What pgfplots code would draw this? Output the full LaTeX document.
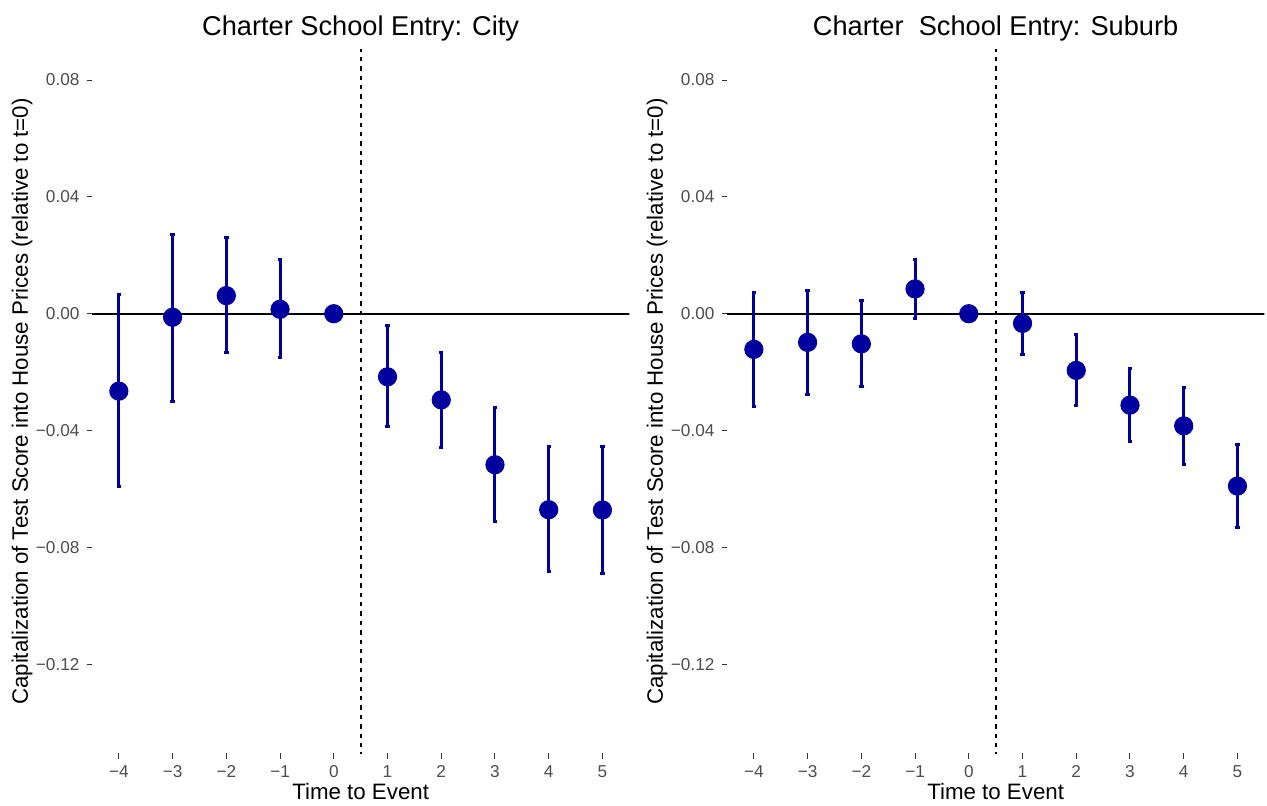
\documentclass[border=0pt]{standalone}
\usepackage{pgfplots}
\usepackage{pgfplotstable}
\pgfplotsset{compat=1.18}
\usepackage{fontspec}
\setmainfont{Liberation Sans}
\definecolor{ptblue}{RGB}{0,0,158}
\definecolor{tickgray}{RGB}{77,77,77}

\pgfplotstableread{
x y lo hi
-4 -0.0265 -0.0593 0.0067
-3 -0.0012 -0.0299 0.0272
-2 0.0062 -0.0134 0.0260
-1 0.0015 -0.0149 0.0184
0 0 0 0
1 -0.0216 -0.0387 -0.0040
2 -0.0295 -0.0459 -0.0134
3 -0.0517 -0.0713 -0.0322
4 -0.0671 -0.0882 -0.0456
5 -0.0672 -0.0889 -0.0456
}\citytable

\pgfplotstableread{
x y lo hi
-4 -0.0122 -0.0317 0.0073
-3 -0.0098 -0.0275 0.0079
-2 -0.0103 -0.0250 0.0046
-1 0.0085 -0.0017 0.0184
0 0 0 0
1 -0.0033 -0.0138 0.0073
2 -0.0194 -0.0315 -0.0072
3 -0.0313 -0.0439 -0.0186
4 -0.0384 -0.0516 -0.0252
5 -0.0590 -0.0733 -0.0447
}\suburbtable

\pgfplotsset{panel/.style={
  scale only axis, width=268.65pt, height=351.5pt,
  xmin=-4.5, xmax=5.5, ymin=-0.1504, ymax=0.0903,
  axis line style={draw=none},
  tick pos=left, tick align=outside, major tick length=2.75pt,
  tick style={color=black!80, line width=0.5pt},
  xtick={-4,-3,-2,-1,0,1,2,3,4,5},
  xticklabels={−4,−3,−2,−1,0,1,2,3,4,5},
  ytick={-0.12,-0.08,-0.04,0,0.04,0.08},
  yticklabels={−0.12,−0.08,−0.04,0.00,0.04,0.08},
  ticklabel style={font=\fontsize{8.6}{10}\selectfont, text=tickgray},
  xlabel={Time to Event},
  ylabel={Capitalization of Test Score into House Prices (relative to t=0)},
  label style={font=\fontsize{11.15}{13}\selectfont},
  xlabel style={at={(axis description cs:0.5,-0.0555)}, anchor=center},
  ylabel style={at={(axis description cs:-0.1303,0.5)}, anchor=center},
  title style={at={(0.5,1)}, anchor=center, yshift=5pt, font=\fontsize{13.6}{16}\selectfont},
  clip=true,
}}
\pgfplotsset{pts/.style={only marks, mark=*, mark size=4.6pt, color=ptblue,
  mark options={fill=ptblue, draw=ptblue},
  error bars/.cd, y dir=both, y explicit,
  error bar style={line width=1.5pt, color=ptblue},
  error mark=-,
  error mark options={rotate=90, line width=1.5pt, mark size=1.1pt, color=ptblue}}}

\begin{document}
\begin{tikzpicture}
\useasboundingbox (0,0) rectangle (633.5pt,402.5pt);
\begin{axis}[panel, at={(46pt,26pt)}, anchor=south west, title={Charter School Entry: City}]
\addplot[black, line width=0.8pt, forget plot] coordinates {(-5,0) (6,0)};
\addplot[black, line width=1pt, dash pattern=on 2.2pt off 2.5pt, forget plot] coordinates {(0.5,-0.2) (0.5,0.2)};
\addplot[pts] table[x=x, y=y, y error plus expr=\thisrow{hi}-\thisrow{y}, y error minus expr=\thisrow{y}-\thisrow{lo}] {\citytable};
\end{axis}
\begin{axis}[panel, at={(363.5pt,26pt)}, anchor=south west, title={Charter\ \ School Entry: Suburb}]
\addplot[black, line width=0.8pt, forget plot] coordinates {(-5,0) (6,0)};
\addplot[black, line width=1pt, dash pattern=on 2.2pt off 2.5pt, forget plot] coordinates {(0.5,-0.2) (0.5,0.2)};
\addplot[pts] table[x=x, y=y, y error plus expr=\thisrow{hi}-\thisrow{y}, y error minus expr=\thisrow{y}-\thisrow{lo}] {\suburbtable};
\end{axis}
\end{tikzpicture}
\end{document}
